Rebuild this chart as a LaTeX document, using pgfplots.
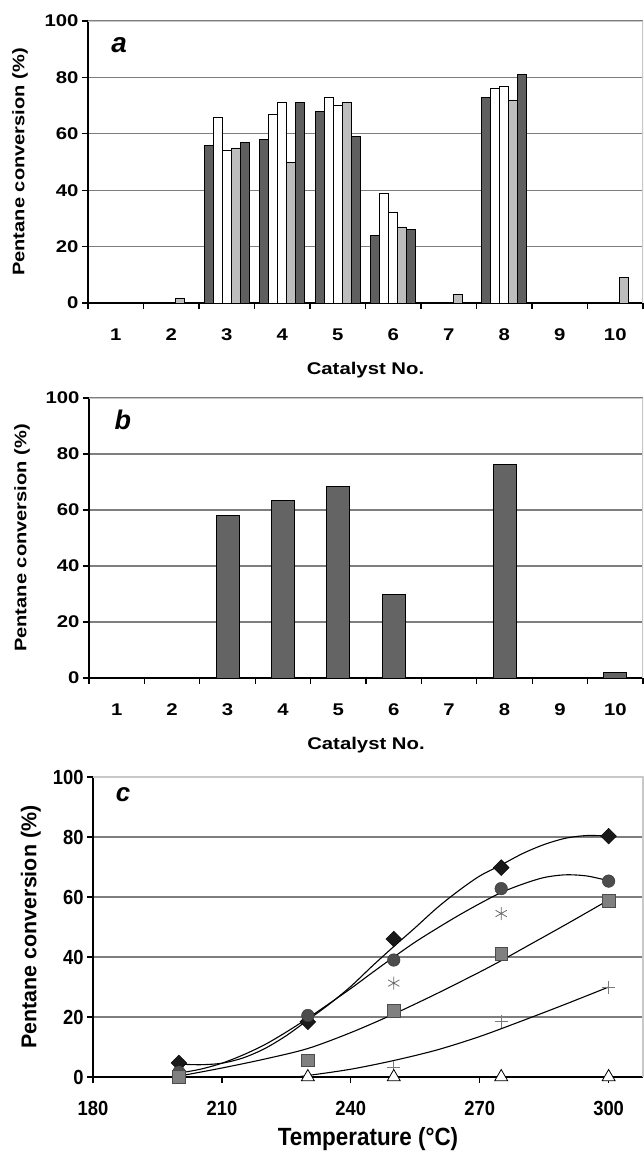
\documentclass[border=0pt]{standalone}
\usepackage{pgfplots}
\pgfplotsset{compat=1.18}
\usepackage{fontspec}
\setmainfont{Liberation Sans}
\newfontfamily\fab[FakeStretch=1.2]{Liberation Sans}
\newfontfamily\fc[FakeStretch=0.9]{Liberation Sans}
\newfontfamily\fcn{Liberation Sans}
\definecolor{dg}{HTML}{5F5F5F}
\definecolor{dgb}{HTML}{646464}
\definecolor{lg}{HTML}{BDBDBD}
\definecolor{gridc}{HTML}{7E7E7E}
\definecolor{framec}{HTML}{C8C8C8}
\definecolor{circc}{HTML}{4D4D4D}
\definecolor{sqc}{HTML}{808080}
\definecolor{astc}{HTML}{6A6A6A}
\definecolor{plusc}{HTML}{7A7A7A}

\pgfplotsset{
  common/.style={
    scale only axis,
    axis x line*=bottom, axis y line*=left,
    axis line style={-, black, line width=1.4bp},
    ymin=0, ymax=100, ytick={0,20,...,100},
    ymajorgrids, major grid style={gridc, line width=1.3bp},
    tick style={black, line width=1.3bp},
    tick align=outside, major tick length=6bp,
    /pgf/number format/assume math mode=true,
  },
  catax/.style={
    common,
    xmin=0.5, xmax=10.5,
    xtick={0.5,1.5,...,10.5}, xticklabels={},
    extra x ticks={1,2,3,4,5,6,7,8,9,10},
    extra x tick labels={1,2,3,4,5,6,7,8,9,10},
    extra x tick style={major tick length=0bp, xticklabel style={yshift=-22bp}},
    ticklabel style={font=\fontsize{17}{19}\fab\bfseries},
    every axis y label/.style={at={(axis description cs:-0.1225,0.5)}, rotate=90, anchor=center, font=\fontsize{16.8}{19}\fab\bfseries},
    every axis x label/.style={at={(axis description cs:0.5,-0.255)}, anchor=base, font=\fontsize{17}{19}\fab\bfseries},
    ylabel={Pentane conversion (\%)},
    xlabel={Catalyst No.},
  },
}

\begin{document}
\begin{tikzpicture}
\path[use as bounding box] (0bp,0bp) rectangle (644bp,-1151bp);

% ---------------- panel a
\begin{axis}[catax, at={(88bp,-303bp)}, anchor=south west, width=555bp, height=282bp]
\addplot[ybar, bar width=9bp, bar shift=-18bp, fill=dg, draw=black, line width=0.7bp]
  coordinates {(3,56) (4,58) (5,68) (6,24) (8,73)};
\addplot[ybar, bar width=9bp, bar shift=-9bp, fill=white, draw=black, line width=0.7bp]
  coordinates {(3,66) (4,67) (5,73) (6,39) (8,76)};
\addplot[ybar, bar width=9bp, bar shift=0bp, fill=white, draw=black, line width=0.7bp]
  coordinates {(3,54) (4,71) (5,70) (6,32) (8,77)};
\addplot[ybar, bar width=9bp, bar shift=9bp, fill=lg, draw=black, line width=0.7bp]
  coordinates {(2,1.8) (3,55) (4,50) (5,71) (6,27) (7,3) (8,72) (10,9)};
\addplot[ybar, bar width=9bp, bar shift=18bp, fill=dg, draw=black, line width=0.7bp]
  coordinates {(3,57) (4,71) (5,59) (6,26) (8,81)};
\draw[framec, line width=1.2bp] (axis description cs:0,1) -- (axis description cs:1,1) -- (axis description cs:1,0);
\node[anchor=base west, font=\fontsize{28}{30}\fcn\bfseries\itshape] at (axis description cs:0.036,0.887) {a};
\end{axis}

% ---------------- panel b
\begin{axis}[catax, at={(89bp,-678bp)}, anchor=south west, width=554bp, height=280bp,
  every axis y label/.style={at={(axis description cs:-0.121,0.5)}, rotate=90, anchor=center, font=\fontsize{16.8}{19}\fab\bfseries}]
\addplot[ybar, bar width=23bp, bar shift=0bp, fill=dgb, draw=black, line width=0.7bp]
  coordinates {(3,58.1) (4,63.5) (5,68.3) (6,29.8) (8,76.3) (10,2.1)};
\draw[framec, line width=1.2bp] (axis description cs:0,1) -- (axis description cs:1,1) -- (axis description cs:1,0);
\node[anchor=base west, font=\fontsize{27}{29}\fcn\bfseries\itshape] at (axis description cs:0.04,0.886) {b};
\end{axis}

% ---------------- panel c
\begin{axis}[common, at={(93bp,-1077bp)}, anchor=south west, width=550bp, height=300bp,
  clip=false,
  xmin=180, xmax=308, xtick={180,210,240,270,300},
  ticklabel style={font=\fontsize{20.5}{22}\fc\bfseries},
  xticklabel style={yshift=-15bp},
  every axis y label/.style={at={(axis description cs:-0.113,0.5)}, rotate=90, anchor=center, font=\fontsize{21.5}{23}\fcn\bfseries},
  every axis x label/.style={at={(axis description cs:0.5,-0.227)}, anchor=base, font=\fontsize{25}{27}\fc\bfseries},
  ylabel={Pentane conversion (\%)},
  xlabel={Temperature (\textdegree C)},
]
\draw[framec, line width=1.2bp] (axis description cs:0,1) -- (axis description cs:1,1) -- (axis description cs:1,0);
% trend curves
\addplot[black, line width=1.1bp, smooth, no marks] coordinates {
 (200,4.3) (205,4.1) (210,4.6) (215,6.4) (220,9.5) (225,13.8) (230,19) (235,24.3) (240,30.2)
 (245,37) (250,43.5) (255,49.8) (260,56.3) (265,62) (270,67) (275,70.7) (280,74.5) (285,77.5)
 (290,79.6) (295,80.5) (300,80.3)};
\addplot[black, line width=1.1bp, smooth, no marks] coordinates {
 (200,1.3) (205,2.6) (210,4.6) (215,7.4) (220,10.8) (225,15) (230,19.6) (235,24.5) (240,29.5)
 (245,34.8) (250,40) (255,45) (260,49.5) (265,53.8) (270,57.8) (275,61.5) (280,64.3) (285,66.5)
 (290,67.4) (295,67) (300,65.4)};
\addplot[black, line width=1.1bp, smooth, no marks] coordinates {
 (200,0.3) (210,3) (220,6) (230,9.5) (240,14.8) (250,21) (260,27.8) (270,35) (275,38.8)
 (280,42.8) (290,50.8) (300,59)};
\addplot[black, line width=1.1bp, smooth, no marks] coordinates {
 (227,0) (230,0.5) (240,2.6) (250,5.5) (260,9) (270,13.5) (280,18.8) (290,24.3) (300,30)};
% data points
\addplot[only marks, mark=square*, mark size=5.6bp, mark options={rotate=45, fill=black!90, draw=black}]
  coordinates {(200,4.7) (230,18.4) (250,46) (275,69.8) (300,80.3)};
\addplot[only marks, mark=*, mark size=6.3bp, mark options={fill=circc, draw=black!80}]
  coordinates {(200,1.6) (230,20.5) (250,39) (275,62.8) (300,65.3)};
\addplot[only marks, mark=square*, mark size=6.3bp, mark options={fill=sqc, draw=black!70, line width=0.8bp}]
  coordinates {(200,0) (230,5.5) (250,22) (275,41) (300,58.7)};
\addplot[only marks, mark=asterisk, mark size=6.5bp, mark options={draw=astc, line width=0.8bp}]
  coordinates {(250,31.3) (275,54.5)};
\addplot[only marks, mark=+, mark size=6.5bp, mark options={draw=plusc, line width=0.8bp}]
  coordinates {(250,3.2) (275,18.5) (300,29.8)};
\addplot[only marks, mark=triangle*, mark size=7.5bp, mark options={fill=white, draw=black, line width=0.8bp}]
  coordinates {(230,0) (250,0) (275,0) (300,0)};
\node[anchor=base west, font=\fontsize{26}{28}\fcn\bfseries\itshape] at (axis description cs:0.035,0.917) {c};
\end{axis}
\end{tikzpicture}
\end{document}
